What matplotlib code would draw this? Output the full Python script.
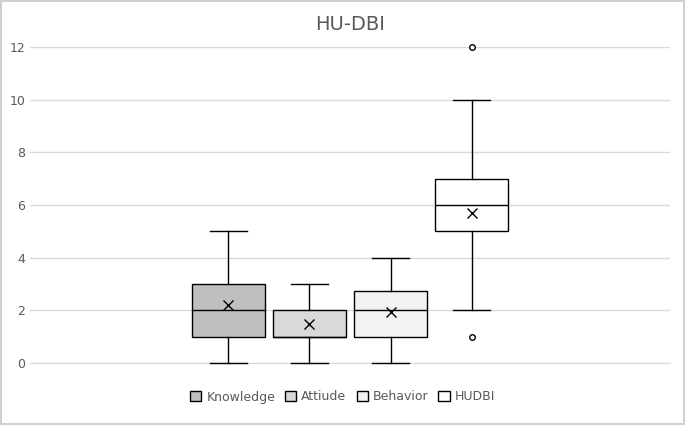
import matplotlib
matplotlib.use("Agg")
import matplotlib.pyplot as plt
from matplotlib.patches import Patch

names = ["Knowledge", "Attiude", "Behavior", "HUDBI"]
whislo = [0, 0, 0, 2]
q1 = [1, 1, 1, 5]
med = [2, 1, 2, 6]
q3 = [3, 2, 2.75, 7]
whishi = [5, 3, 4, 10]
means = [2.2, 1.5, 1.95, 5.7]
fliers = [[], [], [], [1, 12]]
colors = ["#bfbfbf", "#d9d9d9", "#f2f2f2", "#ffffff"]

fig = plt.figure(figsize=(6.85, 4.25), dpi=100)
fig.patch.set_edgecolor("#d0d0d0"); fig.patch.set_linewidth(1.5)
ax = fig.add_axes([30/685, 1-363/425, 640/685, 316/425])
stats = [dict(label=n, whislo=a, q1=b, med=c, q3=d, whishi=e, mean=m, fliers=f)
         for n, a, b, c, d, e, m, f in zip(names, whislo, q1, med, q3, whishi, means, fliers)]
pos = [-1.5, -0.5, 0.5, 1.5]
bp = ax.bxp(stats, positions=pos, widths=0.9, patch_artist=True, showmeans=True,
            boxprops=dict(edgecolor="black", linewidth=1),
            medianprops=dict(color="black", linewidth=1),
            whiskerprops=dict(color="black", linewidth=1),
            capprops=dict(color="black", linewidth=1), capwidths=0.45,
            meanprops=dict(marker="x", markeredgecolor="black", markersize=7),
            flierprops=dict(marker="o", markerfacecolor="white", markeredgecolor="black", markersize=4))
for p, c in zip(bp["boxes"], colors):
    p.set_facecolor(c)
for art in bp["caps"] + bp["whiskers"] + bp["fliers"]:
    art.set_clip_on(False); art.set_zorder(5)
ax.set_xlim(-3.95, 3.95)
ax.set_ylim(0, 12)
ax.set_yticks(range(0, 13, 2))
ax.set_xticks([])
ax.grid(axis="y", color="#d9d9d9", linewidth=1)
ax.set_axisbelow(True)
for s in ["top", "right", "left"]:
    ax.spines[s].set_visible(False)
ax.spines["bottom"].set_color("#d9d9d9")
ax.spines["bottom"].set_zorder(0)
ax.tick_params(axis="y", length=0, labelsize=9, colors="#595959")
ax.set_title("HU-DBI", fontsize=14, color="#595959", pad=12)
handles = [Patch(facecolor=c, edgecolor="black", label=n) for n, c in zip(names, colors)]
fig.legend(handles=handles, loc="center", bbox_to_anchor=(0.5, 1-397/425), ncol=4,
           frameon=False, fontsize=9, handlelength=0.9, handleheight=0.9,
           columnspacing=0.8, handletextpad=0.4, labelcolor="#595959")
fig.savefig("out.png", dpi=100, edgecolor=fig.get_edgecolor())
